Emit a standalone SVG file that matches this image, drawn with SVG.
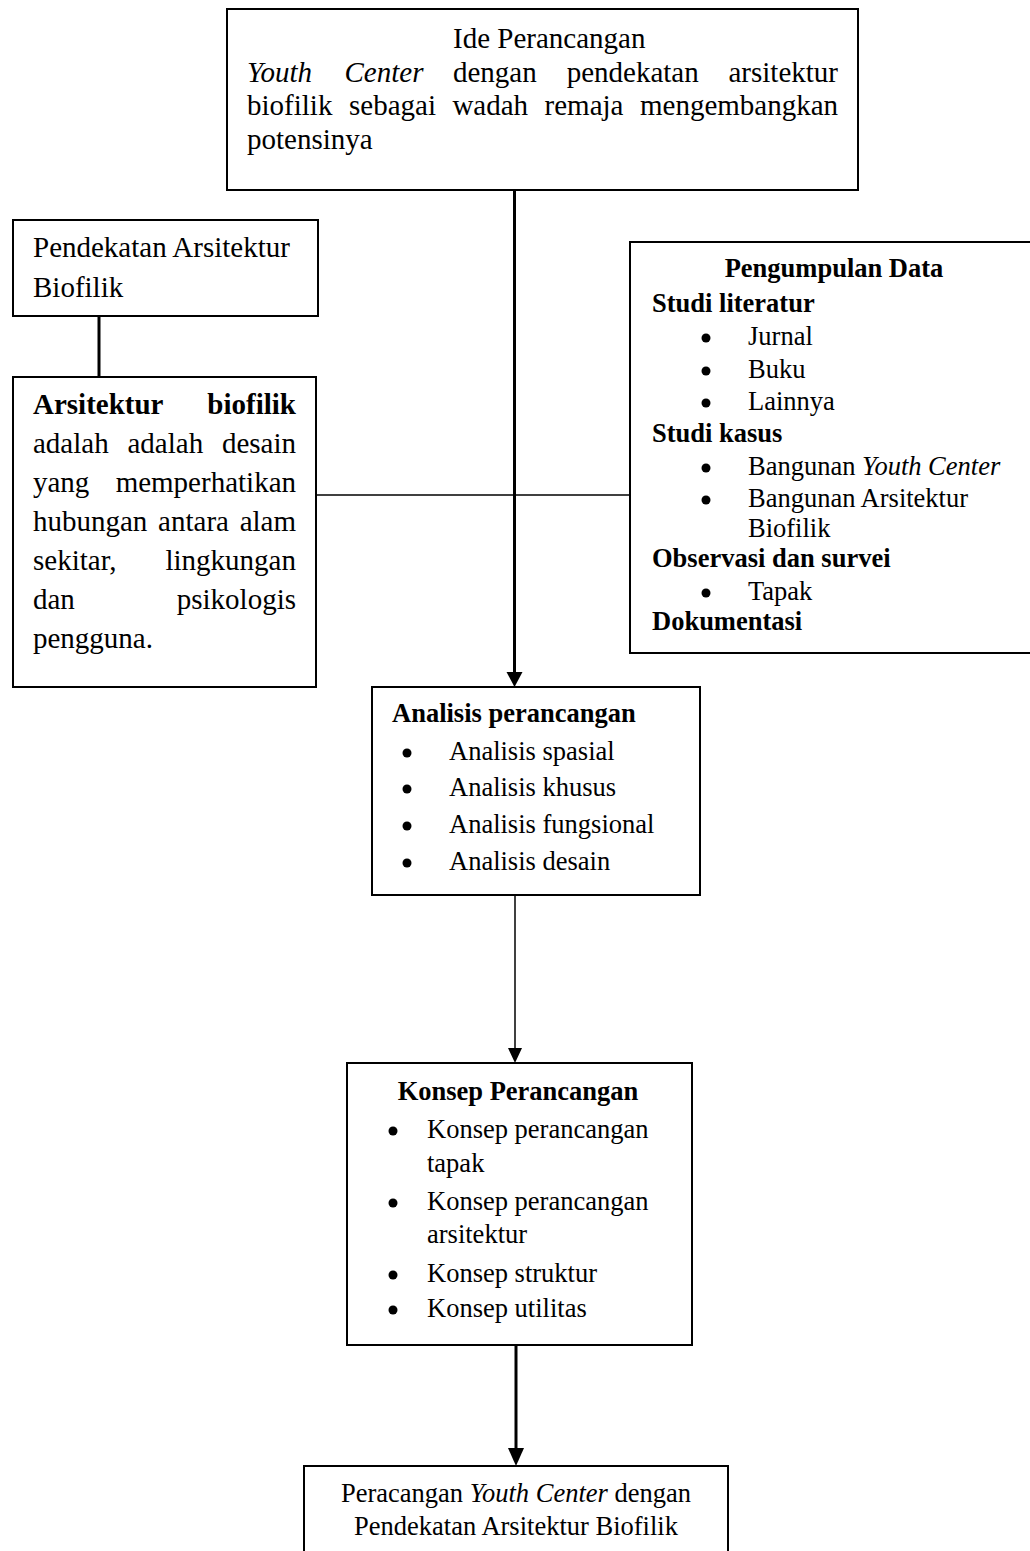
<svg xmlns="http://www.w3.org/2000/svg" width="1030" height="1551" viewBox="0 0 1030 1551">
<style>
.box{fill:#fff;stroke:#000;stroke-width:2}
.t{font-family:"Liberation Serif","Times New Roman",serif;fill:#000}
.l{font-size:29px}
.s{font-size:26.5px}
.b{font-weight:bold}
.i{font-style:italic}
.thick{stroke:#000;stroke-width:3;fill:none}
.thin{stroke:#000;stroke-width:1.5;fill:none}
.head{fill:#000}
.dot{fill:#000}
</style>
<rect width="1030" height="1551" fill="#fff"/>
<g id="connectors">
<line class="thick" x1="514.5" y1="190" x2="514.5" y2="674"/>
<polygon class="head" points="506.5,672 522.5,672 514.5,687"/>
<line class="thick" x1="99" y1="316" x2="99" y2="377"/>
<line class="thin" x1="316" y1="495" x2="630" y2="495"/>
<line class="thin" x1="515" y1="895" x2="515" y2="1050"/>
<polygon class="head" points="508,1048 522,1048 515,1063"/>
<line class="thick" x1="516" y1="1345" x2="516" y2="1450"/>
<polygon class="head" points="508,1448 524,1448 516,1466"/>
</g>
<g id="ide">
<rect class="box" x="227" y="9" width="631" height="181"/>
<text class="t l" x="453" y="48">Ide Perancangan</text>
<text class="t l" y="82"><tspan class="i" x="247">Youth</tspan><tspan class="i" x="344.5">Center</tspan><tspan x="453">dengan</tspan><tspan x="566.7">pendekatan</tspan><tspan x="728.5">arsitektur</tspan></text>
<text class="t l" y="115"><tspan x="247">biofilik</tspan><tspan x="349">sebagai</tspan><tspan x="452.4">wadah</tspan><tspan x="544.6">remaja</tspan><tspan x="640">mengembangkan</tspan></text>
<text class="t l" x="247" y="149">potensinya</text>
</g>
<g id="pendekatan">
<rect class="box" x="13" y="220" width="305" height="96"/>
<text class="t l" x="33" y="257">Pendekatan Arsitektur</text>
<text class="t l" x="33" y="297">Biofilik</text>
</g>
<g id="definisi">
<rect class="box" x="13" y="377" width="303" height="310"/>
<text class="t l b" x="33" y="414">Arsitektur</text>
<text class="t l b" x="296" y="414" text-anchor="end">biofilik</text>
<text class="t l" y="453"><tspan x="33">adalah</tspan><tspan x="127.5">adalah</tspan></text>
<text class="t l" x="296" y="453" text-anchor="end">desain</text>
<text class="t l" x="33" y="492">yang</text>
<text class="t l" x="296" y="492" text-anchor="end">memperhatikan</text>
<text class="t l" y="531"><tspan x="33">hubungan</tspan><tspan x="158.1">antara</tspan></text>
<text class="t l" x="296" y="531" text-anchor="end">alam</text>
<text class="t l" x="33" y="570">sekitar,</text>
<text class="t l" x="296" y="570" text-anchor="end">lingkungan</text>
<text class="t l" x="33" y="609">dan</text>
<text class="t l" x="296" y="609" text-anchor="end">psikologis</text>
<text class="t l" x="33" y="648">pengguna.</text>
</g>
<g id="pengumpulan">
<rect class="box" x="630" y="242" width="410" height="411"/>
<text class="t s b" x="834" y="277" text-anchor="middle">Pengumpulan Data</text>
<text class="t s b" x="652" y="312">Studi literatur</text>
<circle class="dot" cx="706" cy="338" r="4.5"/>
<text class="t s" x="748" y="345">Jurnal</text>
<circle class="dot" cx="706" cy="371" r="4.5"/>
<text class="t s" x="748" y="378">Buku</text>
<circle class="dot" cx="706" cy="403" r="4.5"/>
<text class="t s" x="748" y="410">Lainnya</text>
<text class="t s b" x="652" y="442">Studi kasus</text>
<circle class="dot" cx="706" cy="468" r="4.5"/>
<text class="t s" x="748" y="475">Bangunan <tspan class="i">Youth Center</tspan></text>
<circle class="dot" cx="706" cy="500" r="4.5"/>
<text class="t s" x="748" y="507">Bangunan Arsitektur</text>
<text class="t s" x="748" y="537">Biofilik</text>
<text class="t s b" x="652" y="567">Observasi dan survei</text>
<circle class="dot" cx="706" cy="593" r="4.5"/>
<text class="t s" x="748" y="600">Tapak</text>
<text class="t s b" x="652" y="630">Dokumentasi</text>
</g>
<g id="analisis">
<rect class="box" x="372" y="687" width="328" height="208"/>
<text class="t s b" x="392" y="722">Analisis perancangan</text>
<circle class="dot" cx="407" cy="753" r="4.5"/>
<text class="t s" x="449" y="760">Analisis spasial</text>
<circle class="dot" cx="407" cy="789" r="4.5"/>
<text class="t s" x="449" y="796">Analisis khusus</text>
<circle class="dot" cx="407" cy="826" r="4.5"/>
<text class="t s" x="449" y="833">Analisis fungsional</text>
<circle class="dot" cx="407" cy="863" r="4.5"/>
<text class="t s" x="449" y="870">Analisis desain</text>
</g>
<g id="konsep">
<rect class="box" x="347" y="1063" width="345" height="282"/>
<text class="t s b" x="518" y="1100" text-anchor="middle">Konsep Perancangan</text>
<circle class="dot" cx="393" cy="1131" r="4.5"/>
<text class="t s" x="427" y="1138">Konsep perancangan</text>
<text class="t s" x="427" y="1172">tapak</text>
<circle class="dot" cx="393" cy="1203" r="4.5"/>
<text class="t s" x="427" y="1210">Konsep perancangan</text>
<text class="t s" x="427" y="1243">arsitektur</text>
<circle class="dot" cx="393" cy="1275" r="4.5"/>
<text class="t s" x="427" y="1282">Konsep struktur</text>
<circle class="dot" cx="393" cy="1310" r="4.5"/>
<text class="t s" x="427" y="1317">Konsep utilitas</text>
</g>
<g id="hasil">
<rect class="box" x="304" y="1466" width="424" height="100"/>
<text class="t s" x="516" y="1502" text-anchor="middle">Peracangan <tspan class="i">Youth Center</tspan> dengan</text>
<text class="t s" x="516" y="1535" text-anchor="middle">Pendekatan Arsitektur Biofilik</text>
</g>
</svg>
